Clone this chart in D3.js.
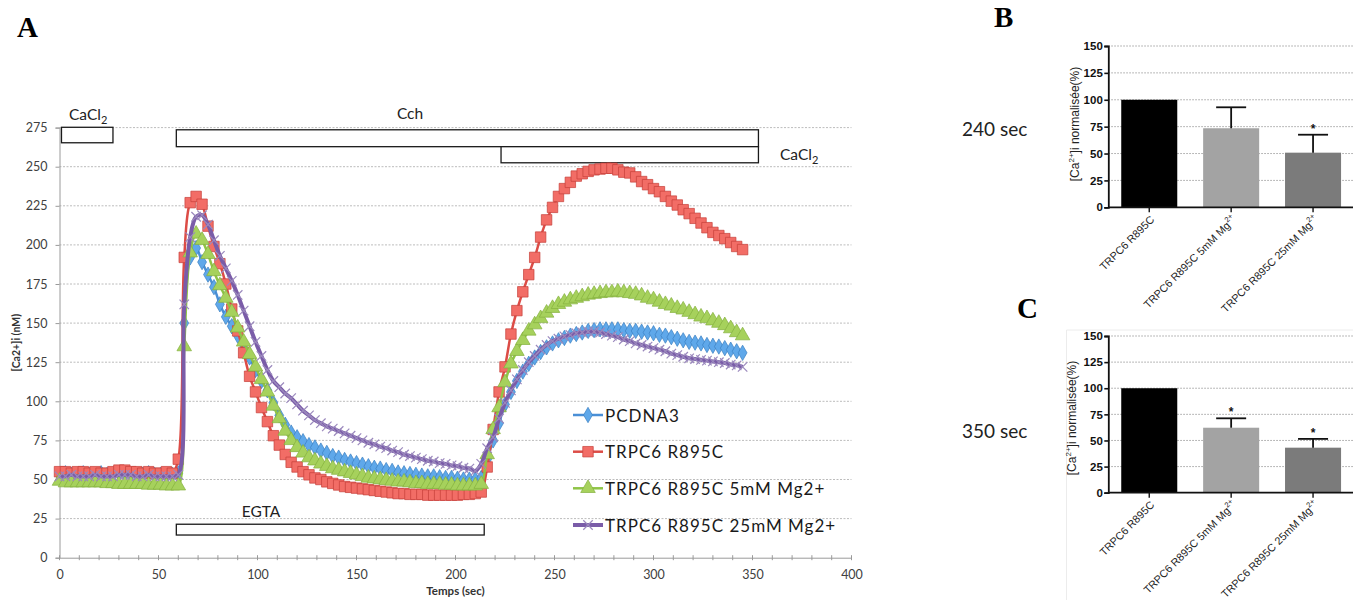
<!DOCTYPE html>
<html>
<head>
<meta charset="utf-8">
<script src="https://cdn.jsdelivr.net/npm/d3@7"></script>
<style>
  body { margin: 0; background: #fff; }
  svg { display: block; }
</style>
</head>
<body>
<svg id="fig" width="1353" height="600"></svg>
<script>
// ---------- Panel A: [Ca2+]i time course ----------
// sampling clock (s)
const times = d3.range(0, 346, 3);

const pcdna3 = [
  53, 54, 53, 53, 54, 53, 53, 54, 53, 53, 54, 54, 53, 53, 53, 54, 53, 53, 53, 53,
  54, 150, 192, 198, 189, 181, 173, 162, 154, 148,
  142, 136, 128, 120, 113, 107, 99, 91, 85, 80,
  77, 74.5, 72, 70.5, 68.5, 67, 65, 64, 62.5, 61.5,
  60.5, 59.5, 58.5, 57.5, 57, 56, 55.5, 54.5, 54, 53.5,
  53, 52.5, 52, 52, 51.5, 51, 51, 50.5, 50, 50,
  50, 51, 63, 75, 86, 98, 106, 113, 119, 124,
  128, 131.5, 134.5, 137, 139, 140.5, 142, 143, 144, 145,
  145.5, 146, 146, 146, 146, 145.5, 145, 145, 144.5, 144,
  143.5, 142.5, 142, 141, 140, 139, 138, 137.5, 137, 136,
  135.5, 135, 134, 133, 132, 131
];

const trpc6 = [
  55, 55, 54, 55, 55, 54, 55, 54, 54, 55, 56, 56, 55, 55, 54, 55, 54, 54, 55, 54,
  63, 192, 227, 231, 226, 212, 199, 188, 175, 159,
  145, 131, 116, 106, 96, 87, 78, 72, 66, 61,
  58, 55, 53, 51, 50, 48.5, 47.5, 46.5, 45.5, 45,
  44.5, 44, 43.5, 43, 42.5, 42, 41.5, 41, 41, 40.5,
  40.5, 40.5, 40, 40, 40, 40, 40, 40, 40.5, 40.5,
  41, 42, 58, 82, 106, 122, 143, 158, 170, 181,
  192, 205, 216, 224, 231, 236, 240, 244, 245.5, 247,
  248, 248.5, 249, 249, 248, 246.5, 246, 243.5, 240.5, 238.5,
  236, 234, 231, 228, 225.5, 222.5, 220, 217, 214, 211,
  208, 206, 204, 201.5, 199, 197
];

const mg5 = [
  49, 48, 48, 48, 48, 48, 48, 48, 47.5, 47.5, 47, 47, 47, 47, 47, 46.5, 46.5, 46.5, 46, 46,
  46, 135, 195, 207, 203, 194, 183, 174, 166, 157,
  147, 138, 130, 122, 114, 106, 97, 89, 81, 75,
  70.5, 67, 64, 62, 60, 58.5, 57, 56, 55, 54,
  53, 52, 51, 50.5, 50, 49.5, 49, 48.5, 48.5, 48,
  47.5, 47.5, 47, 47, 47, 46.5, 46.5, 46, 46, 46,
  46, 47, 66, 82, 96, 112, 124, 132, 139, 145,
  149, 153, 156.5, 159.5, 162, 163.5, 165, 166, 167, 168,
  168.5, 169, 169.5, 169.5, 170, 169.5, 169, 168.5, 167.5, 166,
  165, 163.5, 162, 161, 159.5, 158.5, 157, 155.5, 154, 153,
  151.5, 150, 148.5, 146.5, 144, 142
];

const mg25 = [
  52, 52, 53, 52, 52, 52, 53, 52, 52, 52, 53, 53, 53, 52, 52, 53, 52, 52, 52, 52,
  53, 162, 205, 218, 219, 213, 203, 193, 185, 177,
  168, 158, 148, 138, 129, 120, 113, 109, 105, 102,
  98, 94, 91, 88, 86, 84, 82.5, 81, 79.5, 78,
  76.5, 75, 73.5, 72.5, 71, 70, 68.5, 67.5, 66, 65,
  64, 63, 62, 61.5, 60.5, 60, 59, 58.5, 57.5, 57,
  55.5, 60, 70, 77, 89, 99, 107, 114, 120, 125,
  129, 133, 136, 138.5, 140, 141.5, 142.5, 143.5, 144, 144.5,
  144.5, 144, 143, 142, 141, 139.5, 138.5, 137, 136, 135,
  134, 133, 132, 130.5, 129.5, 128.5, 127.5, 127, 126.5, 126,
  125.5, 125, 124.5, 123.5, 123, 122
];

const seriesNames = ["PCDNA3", "TRPC6 R895C", "TRPC6 R895C 5mM Mg2+", "TRPC6 R895C 25mM Mg2+"];
const seriesValues = [pcdna3, trpc6, mg5, mg25];

const xTicksA = [0, 50, 100, 150, 200, 250, 300, 350, 400];
const yTicksA = [0, 25, 50, 75, 100, 125, 150, 175, 200, 225, 250, 275];

// perfusion protocol (s)
const protocolNames = ["CaCl2", "Cch", "CaCl2", "EGTA"];
const protocolFrom = [1, 59, 223, 59];
const protocolTo = [27, 353, 353, 214.5];

// ---------- Panels B and C: normalised [Ca2+]i ----------
const barGroups = ["TRPC6 R895C", "TRPC6 R895C 5mM Mg", "TRPC6 R895C 25mM Mg"];
const barGroupSup = ["", "2+", "2+"];
const yTicksBar = [0, 25, 50, 75, 100, 125, 150];
const mean240 = [100, 73.5, 50.8];
const sem240 = [0, 19.5, 16.7];
const sig240 = [false, false, true];
const mean350 = [100, 62.2, 43.1];
const sem350 = [0, 9, 8.4];
const sig350 = [false, true, true];

const svg = d3.select("#fig");
const calibri = "Lato, 'Open Sans', sans-serif";
const arial = "'Liberation Sans', Arial, sans-serif";

// ================= Panel A =================
const x = d3.scaleLinear().domain([0, 400]).range([59.5, 851.5]);
const y = d3.scaleLinear().domain([0, 275]).range([557.7, 127.6]);

const gA = svg.append("g");

// horizontal dotted gridlines
gA.append("g").selectAll("line")
  .data(yTicksA.filter(v => v > 0))
  .join("line")
  .attr("x1", x(0)).attr("x2", x(400))
  .attr("y1", d => y(d)).attr("y2", d => y(d))
  .attr("stroke", "#bcbcbc").attr("stroke-width", 1)
  .attr("stroke-dasharray", "2,1.5");

// y axis
const yAxisA = gA.append("g")
  .attr("transform", `translate(${x(0)},0)`)
  .call(d3.axisLeft(y).tickValues(yTicksA).tickSize(4).tickPadding(8));
yAxisA.select(".domain").attr("stroke", "#9a9a9a");
yAxisA.selectAll(".tick line").attr("stroke", "#9a9a9a");
yAxisA.selectAll(".tick text")
  .attr("font-family", calibri).attr("font-size", 12.5).attr("fill", "#404040");

// x axis with minor ticks every 10 s
const xAxisA = gA.append("g")
  .attr("transform", `translate(0,${y(0)})`)
  .call(d3.axisBottom(x).tickValues(xTicksA).tickSize(0).tickPadding(12));
xAxisA.select(".domain").attr("stroke", "#9a9a9a");
xAxisA.selectAll(".tick text")
  .attr("font-family", calibri).attr("font-size", 12.5).attr("fill", "#404040");
gA.append("g").selectAll("line")
  .data(d3.range(0, 401, 10))
  .join("line")
  .attr("x1", d => x(d)).attr("x2", d => x(d))
  .attr("y1", y(0) - 2.5).attr("y2", y(0) + 2.5)
  .attr("stroke", "#9a9a9a");

// axis titles
gA.append("text")
  .attr("transform", `translate(16,${(y(0) + y(275)) / 2}) rotate(-90)`)
  .attr("text-anchor", "middle").attr("dominant-baseline", "central")
  .attr("font-family", calibri).attr("font-weight", "bold")
  .attr("font-size", 10.5).attr("fill", "#333")
  .text("[Ca2+]i (nM)");
gA.append("text")
  .attr("x", (x(0) + x(400)) / 2).attr("y", 595)
  .attr("text-anchor", "middle")
  .attr("font-family", calibri).attr("font-weight", "bold")
  .attr("font-size", 11.5).attr("fill", "#333")
  .text("Temps (sec)");

// protocol bars: vertical band (in nM units) for each span
const protocolBand = [[265.3, 275.2], [262.8, 273.6], [252.5, 262.8], [14.5, 21.4]];
gA.append("g").selectAll("rect")
  .data(protocolNames.map((n, i) => i))
  .join("rect")
  .attr("x", i => x(protocolFrom[i]))
  .attr("width", i => x(protocolTo[i]) - x(protocolFrom[i]))
  .attr("y", i => y(protocolBand[i][1]))
  .attr("height", i => y(protocolBand[i][0]) - y(protocolBand[i][1]))
  .attr("fill", "#fff").attr("stroke", "#1a1a1a").attr("stroke-width", 1.3);

function chemLabel(g, name, px, py, anchor) {
  const t = g.append("text")
    .attr("x", px).attr("y", py).attr("text-anchor", anchor)
    .attr("font-family", calibri).attr("font-size", 15.5).attr("fill", "#222");
  const m = name.match(/^(CaCl)(2)$/);
  if (m) {
    t.append("tspan").text(m[1]);
    t.append("tspan").attr("dy", 4).attr("font-size", 11).text(m[2]);
  } else {
    t.text(name);
  }
}
chemLabel(gA, protocolNames[0], 69, 120, "start");
chemLabel(gA, protocolNames[1], 410, 119, "middle");
chemLabel(gA, protocolNames[2], 780, 160, "start");
chemLabel(gA, protocolNames[3], 261, 517, "middle");

// series styling
const styles = [
  { line: "#4a8fd6", width: 2.5, symbol: d3.symbolDiamond, size: 68, fill: "#5fa8ea", stroke: "#3b7fc2" },
  { line: "#dc4c46", width: 2.5, symbol: d3.symbolSquare, size: 110, fill: "#f26d66", stroke: "#c63f39" },
  { line: "#8fc446", width: 2.5, symbol: d3.symbolTriangle, size: 92, fill: "#a6d15c", stroke: "#84b03e" },
  { line: "#7a5ca8", width: 4, symbol: d3.symbolTimes || d3.symbolCross, size: 60, fill: "none", stroke: "#9b89bd", strokeOnly: true }
];

const line = d3.line()
  .x(d => x(d.t)).y(d => y(d.v))
  .curve(d3.curveCatmullRom.alpha(0.5));

seriesValues.forEach((vals, si) => {
  const st = styles[si];
  const pts = vals.map((v, i) => ({ t: times[i], v }));
  const g = gA.append("g");
  g.append("path").datum(pts)
    .attr("d", line).attr("fill", "none")
    .attr("stroke", st.line).attr("stroke-width", st.width)
    .attr("stroke-linejoin", "round");
  const sym = d3.symbol().type(st.symbol).size(st.size);
  g.selectAll("path.m").data(pts).join("path")
    .attr("class", "m")
    .attr("transform", d => `translate(${x(d.t)},${y(d.v)})` + (st.symbol === d3.symbolCross ? " rotate(45)" : ""))
    .attr("d", sym)
    .attr("fill", st.fill)
    .attr("stroke", st.stroke)
    .attr("stroke-width", st.strokeOnly ? 1.2 : 0.7);
});

// legend
const legY = [415, 451.7, 488.3, 525];
const leg = gA.append("g");
seriesNames.forEach((name, si) => {
  const st = styles[si];
  const ly = legY[si];
  leg.append("line").attr("x1", 573).attr("x2", 603).attr("y1", ly).attr("y2", ly)
    .attr("stroke", st.line).attr("stroke-width", st.width);
  leg.append("path")
    .attr("transform", `translate(588,${ly})` + (st.symbol === d3.symbolCross ? " rotate(45)" : ""))
    .attr("d", d3.symbol().type(st.symbol).size(st.size))
    .attr("fill", st.fill).attr("stroke", st.stroke)
    .attr("stroke-width", st.strokeOnly ? 1.2 : 0.7);
  leg.append("text").attr("x", 605).attr("y", ly)
    .attr("dominant-baseline", "central")
    .attr("font-family", calibri).attr("font-size", 17)
    .attr("letter-spacing", 1).attr("fill", "#1a1a1a")
    .text(name);
});

// panel letters
const letter = (t, px, py) => svg.append("text").attr("x", px).attr("y", py)
  .attr("font-family", "'Liberation Serif', 'Times New Roman', serif")
  .attr("font-weight", "bold").attr("font-size", 29).attr("fill", "#000").text(t);
letter("A", 17, 37);
letter("B", 994, 27);
letter("C", 1017, 318);

// ================= Panels B and C =================
function barPanel(opts) {
  const g = svg.append("g");
  const yb = d3.scaleLinear().domain([0, 150]).range([opts.y0, opts.y150]);
  const xb = d3.scaleBand().domain(barGroups).range([1108.3, 1354])
    .paddingInner(0.316).paddingOuter(0.158);

  if (opts.frame) {
    g.append("path").attr("d", `M1066.5,600 V${opts.frame} H1353`)
      .attr("fill", "none").attr("stroke", "#ececec");
  }

  g.append("g").selectAll("line").data(yTicksBar.filter(v => v > 0)).join("line")
    .attr("x1", 1108.3).attr("x2", 1353)
    .attr("y1", d => yb(d)).attr("y2", d => yb(d))
    .attr("stroke", "#8a8a8a").attr("stroke-width", 0.8)
    .attr("stroke-dasharray", "1.5,1.5");

  const col = ["#000000", "#a3a3a3", "#7b7b7b"];
  g.append("g").selectAll("rect").data(barGroups).join("rect")
    .attr("x", d => xb(d)).attr("width", xb.bandwidth())
    .attr("y", (d, i) => yb(opts.mean[i]))
    .attr("height", (d, i) => yb(0) - yb(opts.mean[i]))
    .attr("fill", (d, i) => col[i]);

  // upper error bars (SEM)
  barGroups.forEach((d, i) => {
    if (!opts.sem[i]) return;
    const cx = xb(d) + xb.bandwidth() / 2;
    const top = yb(opts.mean[i] + opts.sem[i]);
    g.append("line").attr("x1", cx).attr("x2", cx)
      .attr("y1", yb(opts.mean[i])).attr("y2", top)
      .attr("stroke", "#111").attr("stroke-width", 1.8);
    g.append("line").attr("x1", cx - 15).attr("x2", cx + 15)
      .attr("y1", top).attr("y2", top)
      .attr("stroke", "#111").attr("stroke-width", 1.8);
    if (opts.sig[i]) {
      g.append("text").attr("x", cx).attr("y", top - 2)
        .attr("text-anchor", "middle")
        .attr("font-family", arial).attr("font-weight", "bold")
        .attr("font-size", 12).attr("fill", "#111").text("*");
    }
  });

  // axes
  const ya = g.append("g").attr("transform", "translate(1108.3,0)")
    .call(d3.axisLeft(yb).tickValues(yTicksBar).tickSize(4).tickPadding(1.5));
  ya.select(".domain").attr("stroke", "#111").attr("stroke-width", 1.8);
  ya.selectAll(".tick line").attr("stroke", "#111").attr("stroke-width", 1.6);
  ya.selectAll(".tick text").attr("font-family", arial).attr("font-weight", "bold")
    .attr("font-size", 11.5).attr("fill", "#111");

  const xa = g.append("g").attr("transform", `translate(0,${yb(0)})`)
    .call(d3.axisBottom(xb).tickSize(5).tickFormat(""));
  xa.select(".domain").attr("d", `M1108.3,0H1353`).attr("stroke", "#111").attr("stroke-width", 1.8);
  xa.selectAll(".tick line").attr("stroke", "#111").attr("stroke-width", 1.4);

  barGroups.forEach((d, i) => {
    const cx = xb(d) + xb.bandwidth() / 2;
    const t = g.append("text")
      .attr("transform", `translate(${cx + 3},${yb(0) + 10}) rotate(-45)`)
      .attr("text-anchor", "end").attr("dominant-baseline", "central")
      .attr("font-family", arial).attr("font-size", 10.8).attr("fill", "#222");
    t.append("tspan").text(d);
    if (barGroupSup[i]) {
      t.append("tspan").attr("dy", -4).attr("font-size", 7.5).text(barGroupSup[i]);
    }
  });

  // y title
  const yt = g.append("text")
    .attr("transform", `translate(${opts.titleX},${opts.titleY}) rotate(-90)`)
    .attr("text-anchor", "middle").attr("dominant-baseline", "central")
    .attr("font-family", arial).attr("font-size", 12).attr("fill", "#222");
  yt.append("tspan").text("[Ca");
  yt.append("tspan").attr("dy", -4).attr("font-size", 8).text("2+");
  yt.append("tspan").attr("dy", 4).text("]i normalisée(%)");

  // time label
  g.append("text").attr("x", 962).attr("y", opts.timeY)
    .attr("font-family", calibri).attr("font-size", 19).attr("fill", "#222")
    .text(opts.timeLabel);
}

barPanel({ y0: 207.3, y150: 46, mean: mean240, sem: sem240, sig: sig240,
  titleX: 1075, titleY: 124, timeY: 136, timeLabel: "240 sec" });
barPanel({ y0: 492.7, y150: 336, mean: mean350, sem: sem350, sig: sig350,
  titleX: 1072, titleY: 418, timeY: 438, timeLabel: "350 sec", frame: 330 });
</script>
</body>
</html>
